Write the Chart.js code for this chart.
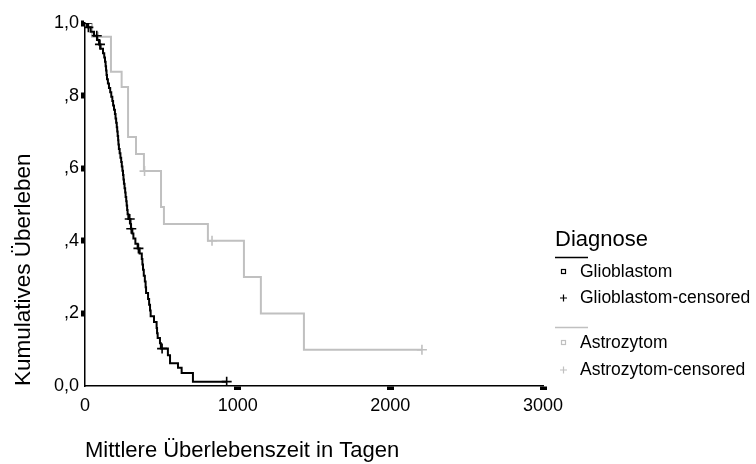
<!DOCTYPE html>
<html>
<head>
<meta charset="utf-8">
<script src="https://cdn.jsdelivr.net/npm/chart.js@4.4.1/dist/chart.umd.min.js"></script>
<style>
  html, body { margin: 0; padding: 0; background: #fff; }
  #wrap { width: 756px; height: 464px; }
</style>
</head>
<body>
<div id="wrap"><canvas id="km" width="756" height="464"></canvas></div>
<script>
// Kaplan-Meier curves, values.
// Each step: survival drops to *Surv[i] at *Days[i]; last point is the end of the curve.
const glioDays = [0, 20, 37, 59, 80, 92, 102, 118, 126, 131, 135, 138, 141, 144, 150, 157, 165, 172, 179,
  184, 190, 196, 200, 204, 208, 211, 214, 217, 219, 222, 227, 232, 237, 241, 245, 249, 252, 255, 259,
  263, 266, 270, 273, 276, 279, 284, 298, 301, 310, 317, 330, 345, 358, 372, 376, 380, 385, 392, 397,
  400, 413, 420, 426, 430, 452, 469, 472, 476, 491, 497, 543, 557, 609, 633, 707, 928];
const glioSurv = [1.0, 0.988, 0.976, 0.965, 0.953, 0.941, 0.929, 0.917, 0.905, 0.893, 0.881, 0.869, 0.857,
  0.845, 0.833, 0.821, 0.809, 0.797, 0.785, 0.773, 0.761, 0.749, 0.737, 0.725, 0.713, 0.701, 0.689,
  0.677, 0.665, 0.653, 0.641, 0.629, 0.617, 0.605, 0.593, 0.581, 0.569, 0.557, 0.545, 0.533, 0.521,
  0.509, 0.497, 0.485, 0.473, 0.460, 0.446, 0.433, 0.420, 0.406, 0.392, 0.379, 0.365, 0.350, 0.335,
  0.320, 0.304, 0.288, 0.272, 0.256, 0.240, 0.224, 0.208, 0.192, 0.176, 0.160, 0.145, 0.132, 0.118,
  0.103, 0.085, 0.063, 0.050, 0.036, 0.012, 0.012];
const glioCensDays = [12, 22, 77, 98, 293, 303, 350, 505, 928];
const glioCensSurv = [1.0, 0.988, 0.965, 0.941, 0.460, 0.433, 0.379, 0.103, 0.012];

const astroDays = [0, 46, 170, 240, 282, 334, 386, 498, 517, 805, 1041, 1152, 1434, 2207];
const astroSurv = [1.0, 0.962, 0.866, 0.824, 0.686, 0.639, 0.592, 0.493, 0.446, 0.400, 0.300, 0.200, 0.100, 0.100];
const astroCensDays = [85, 390, 832, 2207];
const astroCensSurv = [0.962, 0.592, 0.400, 0.100];

const seriesLabels = ['Glioblastom', 'Glioblastom-censored', 'Astrozytom', 'Astrozytom-censored'];
const legendTitle = 'Diagnose';
const yTickLabels = ['0,0', ',2', ',4', ',6', ',8', '1,0'];
const xTickLabels = ['0', '1000', '2000', '3000'];

const BLACK = '#000';
const GREY = 'rgb(192,192,192)';
const FONT = "'Liberation Sans', Arial, sans-serif";

const toPoints = (xs, ys) => xs.map((x, i) => ({ x, y: ys[i] }));

// SPSS-style legend: title with underline, grey rule between the two groups.
const spssLegend = {
  id: 'spssLegend',
  afterDraw(chart) {
    const ctx = chart.ctx;
    const left = 555;
    const rows = [272, 298, 343, 370];
    const colors = [BLACK, BLACK, GREY, GREY];
    ctx.save();
    ctx.fillStyle = BLACK;
    ctx.textBaseline = 'middle';
    ctx.textAlign = 'left';
    ctx.font = `22px ${FONT}`;
    ctx.fillText(legendTitle, left, 240);

    ctx.lineWidth = 1.5;
    ctx.strokeStyle = BLACK;
    ctx.beginPath(); ctx.moveTo(left, 257.5); ctx.lineTo(left + 33, 257.5); ctx.stroke();
    ctx.strokeStyle = GREY;
    ctx.beginPath(); ctx.moveTo(left, 327.5); ctx.lineTo(left + 33, 327.5); ctx.stroke();

    ctx.font = `17.5px ${FONT}`;
    rows.forEach((y, i) => {
      ctx.strokeStyle = colors[i];
      ctx.lineWidth = 1.2;
      if (i % 2 === 0) {
        ctx.strokeRect(left + 6.5, y - 2.5, 4, 4);
      } else {
        ctx.beginPath();
        ctx.moveTo(left + 5, y); ctx.lineTo(left + 12, y);
        ctx.moveTo(left + 8.5, y - 3.5); ctx.lineTo(left + 8.5, y + 3.5);
        ctx.stroke();
      }
      ctx.fillStyle = BLACK;
      ctx.fillText(chart.data.datasets[i].label, left + 25, y);
    });
    ctx.restore();
  },
};

const hideZeroTick = (c) => (c.tick && c.tick.value === 0 ? 'rgba(0,0,0,0)' : BLACK);

new Chart(document.getElementById('km'), {
  type: 'line',
  data: {
    datasets: [
      {
        label: seriesLabels[0],
        data: toPoints(glioDays, glioSurv),
        borderColor: BLACK,
        borderWidth: 2,
        stepped: true,
        pointRadius: 0,
        fill: false,
      },
      {
        label: seriesLabels[1],
        data: toPoints(glioCensDays, glioCensSurv),
        showLine: false,
        pointStyle: 'cross',
        pointRadius: 5,
        borderColor: BLACK,
        borderWidth: 1.6,
      },
      {
        label: seriesLabels[2],
        data: toPoints(astroDays, astroSurv),
        borderColor: GREY,
        borderWidth: 2,
        stepped: true,
        pointRadius: 0,
        fill: false,
      },
      {
        label: seriesLabels[3],
        data: toPoints(astroCensDays, astroCensSurv),
        showLine: false,
        pointStyle: 'cross',
        pointRadius: 5,
        borderColor: GREY,
        borderWidth: 1.6,
      },
    ],
  },
  options: {
    responsive: false,
    animation: false,
    events: [],
    layout: { padding: { top: 23, right: 213, bottom: 0, left: 0 } },
    plugins: {
      legend: { display: false },
      tooltip: { enabled: false },
    },
    scales: {
      x: {
        type: 'linear',
        min: 0,
        max: 3000,
        ticks: {
          stepSize: 1000,
          color: BLACK,
          padding: 5,
          font: { family: FONT, size: 18 },
          callback: (v) => xTickLabels[Math.round(v / 1000)],
        },
        grid: { drawOnChartArea: false, tickLength: 4, tickWidth: 7, tickColor: hideZeroTick },
        border: { color: BLACK, width: 1.5 },
        title: {
          display: true,
          text: 'Mittlere Überlebenszeit in Tagen',
          align: 'start',
          color: BLACK,
          font: { family: FONT, size: 22 },
          padding: { top: 20, bottom: 0 },
        },
        afterFit(scale) { scale.height = 78; },
      },
      y: {
        min: 0,
        max: 1,
        ticks: {
          stepSize: 0.2,
          color: BLACK,
          padding: 2,
          font: { family: FONT, size: 18 },
          callback: (v) => yTickLabels[Math.round(v / 0.2)],
        },
        grid: { drawOnChartArea: false, tickLength: 4, tickWidth: 6, tickColor: hideZeroTick },
        border: { color: BLACK, width: 1.5 },
        title: {
          display: true,
          text: 'Kumulatives Überleben',
          align: 'start',
          color: BLACK,
          font: { family: FONT, size: 22.5 },
          padding: { top: 10, bottom: 0 },
        },
        afterFit(scale) { scale.width = 85; },
      },
    },
  },
  plugins: [spssLegend],
});
</script>
</body>
</html>
